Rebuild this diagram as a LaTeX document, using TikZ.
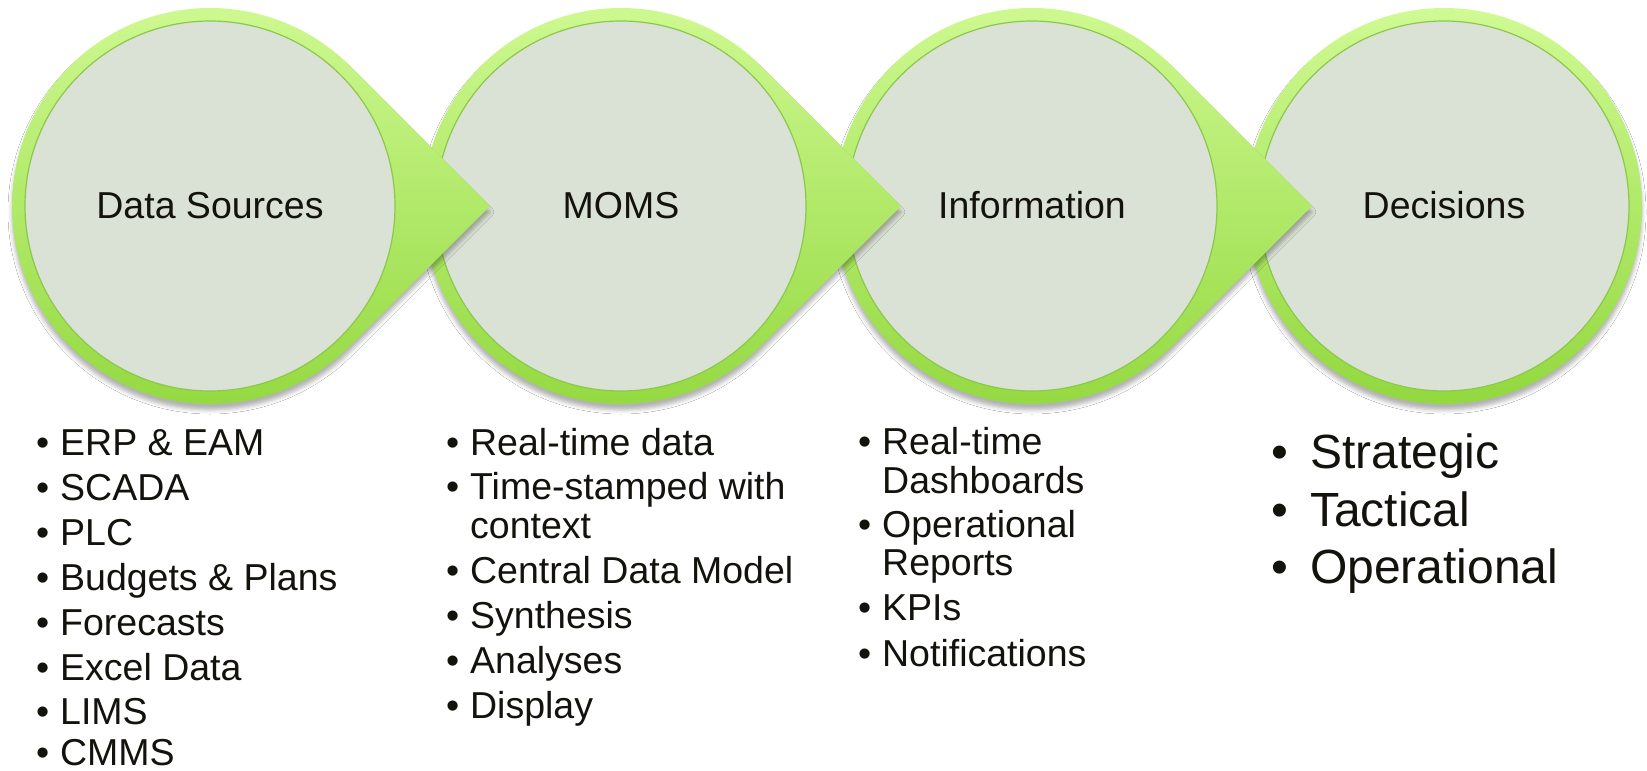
\documentclass[tikz,border=0pt]{standalone}
\usepackage{fontspec}
\setmainfont{Liberation Sans}
\usetikzlibrary{shadows.blur}
\definecolor{ringtop}{RGB}{208,250,148}
\definecolor{ringbot}{RGB}{146,216,62}
\definecolor{discfill}{RGB}{218,225,213}
\definecolor{discline}{RGB}{140,200,75}
\definecolor{ink}{RGB}{20,18,12}
\tikzset{
  ring/.style={top color=ringtop, bottom color=ringbot, draw=none,
    blur shadow={shadow xshift=0pt, shadow yshift=-6pt, shadow blur radius=4pt, shadow opacity=30}},
  disc/.style={fill=discfill, draw=discline, line width=1.2pt},
  circtitle/.style={font=\fontsize{37.5}{45}\selectfont, text=ink, anchor=base, inner sep=0pt},
  listitem/.style={font=\fontsize{37.5}{45}\selectfont, text=ink, anchor=base west, inner sep=0pt},
  bigitem/.style={font=\fontsize{48}{58}\selectfont, text=ink, anchor=base west, inner sep=0pt}
}
\newcommand{\bul}{\makebox[24pt][l]{•}}
\newcommand{\bigbul}{\makebox[39pt][l]{•}}
\begin{document}
\begin{tikzpicture}[x=1pt,y=1pt]
\useasboundingbox (0,0) rectangle (1647,-771);
\fill [white] (0,0) rectangle (1647,-771);
\path [ring] (1444,-206) circle (198);
\draw [disc] (1444,-206) circle (185);
\node [circtitle] (dechead) at (1444,-218) {Decisions};
\path [ring] (1032,-206) ++(45:198) -- (1312,-206) -- ([shift={(-45:198)}]1032,-206) arc (-45:-315:198) -- cycle;
\draw [disc] (1032,-206) circle (185);
\node [circtitle] (infohead) at (1032,-218) {Information};
\path [ring] (621,-206) ++(45:198) -- (901,-206) -- ([shift={(-45:198)}]621,-206) arc (-45:-315:198) -- cycle;
\draw [disc] (621,-206) circle (185);
\node [circtitle] (momshead) at (621,-218) {MOMS};
\path [ring] (210,-206) ++(45:198) -- (490,-206) -- ([shift={(-45:198)}]210,-206) arc (-45:-315:198) -- cycle;
\draw [disc] (210,-206) circle (185);
\node [circtitle] (srchead) at (210,-218) {Data Sources};
\node [listitem] (src1) at (36,-455) {\bul ERP \& EAM};
\node [listitem] (src2) at (36,-500) {\bul SCADA};
\node [listitem] (src3) at (36,-545) {\bul PLC};
\node [listitem] (src4) at (36,-590) {\bul Budgets \& Plans};
\node [listitem] (src5) at (36,-635) {\bul Forecasts};
\node [listitem] (src6) at (36,-680) {\bul Excel Data};
\node [listitem] (src7) at (36,-724) {\bul LIMS};
\node [listitem] (src8) at (36,-765) {\bul CMMS};
\node [listitem] (moms1) at (446,-455) {\bul Real-time data};
\node [listitem] (moms2) at (446,-499) {\bul Time-stamped with};
\node [listitem] (moms2b) at (470,-538) {context};
\node [listitem] (moms3) at (446,-583) {\bul Central Data Model};
\node [listitem] (moms4) at (446,-628) {\bul Synthesis};
\node [listitem] (moms5) at (446,-673) {\bul Analyses};
\node [listitem] (moms6) at (446,-718) {\bul Display};
\node [listitem] (info1) at (858,-454) {\bul Real-time};
\node [listitem] (info1b) at (882,-493) {Dashboards};
\node [listitem] (info2) at (858,-537) {\bul Operational};
\node [listitem] (info2b) at (882,-575) {Reports};
\node [listitem] (info3) at (858,-620) {\bul KPIs};
\node [listitem] (info4) at (858,-666) {\bul Notifications};
\node [bigitem] (dec1) at (1271,-468) {\bigbul Strategic};
\node [bigitem] (dec2) at (1271,-526) {\bigbul Tactical};
\node [bigitem] (dec3) at (1271,-583) {\bigbul Operational};
\end{tikzpicture}
\end{document}
